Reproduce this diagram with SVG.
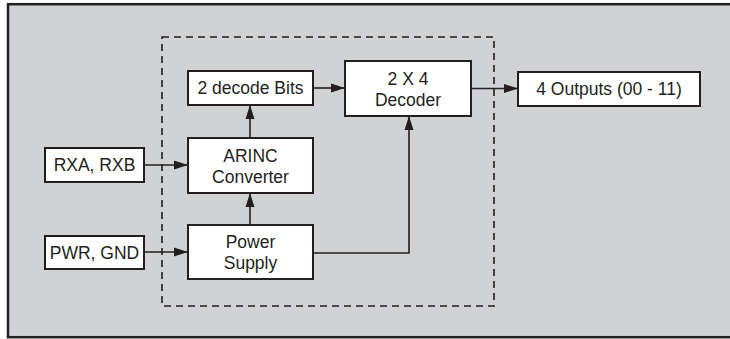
<svg xmlns="http://www.w3.org/2000/svg" width="730" height="339" viewBox="0 0 730 339">
  <defs>
    <marker id="arr" viewBox="0 0 14 10" refX="14" refY="5" markerWidth="14" markerHeight="10" markerUnits="userSpaceOnUse" orient="auto">
      <path d="M0,0.5 L14,5 L0,9.5 Z" fill="#231f20"/>
    </marker>
    <style>
      .box { fill: #ffffff; stroke: #231f20; stroke-width: 2; }
      .lbl { font-family: "Liberation Sans", Arial, sans-serif; font-size: 17.5px; fill: #231f20; text-anchor: middle; }
      .con { fill: none; stroke: #231f20; stroke-width: 1.6; }
    </style>
  </defs>
  <rect x="0" y="0" width="730" height="339" fill="#ffffff"/>
  <rect id="frame" x="8" y="4.2" width="730" height="333" fill="#d1d2d4" stroke="#231f20" stroke-width="2.5"/>
  <rect id="boundary" x="162" y="37" width="332" height="269" fill="none" stroke="#231f20" stroke-width="1.6" stroke-dasharray="7 5"/>

  <g id="connectors">
    <path class="con" d="M144,165 H188" marker-end="url(#arr)"/>
    <path class="con" d="M144,252 H188" marker-end="url(#arr)"/>
    <path class="con" d="M250,225 V193" marker-end="url(#arr)"/>
    <path class="con" d="M250,138 V105" marker-end="url(#arr)"/>
    <path class="con" d="M313,88 H345" marker-end="url(#arr)"/>
    <path class="con" d="M471,88.5 H518" marker-end="url(#arr)"/>
    <path class="con" d="M313,253 H409 V116" marker-end="url(#arr)"/>
  </g>

  <g id="rxa">
    <rect class="box" x="45" y="148" width="99" height="34"/>
    <text class="lbl" x="94.5" y="171.2">RXA, RXB</text>
  </g>
  <g id="pwr">
    <rect class="box" x="45" y="236" width="99" height="33"/>
    <text class="lbl" x="94.5" y="258.7">PWR, GND</text>
  </g>
  <g id="decodebits">
    <rect class="box" x="188" y="71" width="125" height="34"/>
    <text class="lbl" x="250.5" y="94.2">2 decode Bits</text>
  </g>
  <g id="arinc">
    <rect class="box" x="188" y="138" width="125" height="55"/>
    <text class="lbl" x="250.5" y="161.5">ARINC</text>
    <text class="lbl" x="250.5" y="182.5">Converter</text>
  </g>
  <g id="power">
    <rect class="box" x="188" y="225" width="125" height="54"/>
    <text class="lbl" x="250.5" y="248">Power</text>
    <text class="lbl" x="250.5" y="269">Supply</text>
  </g>
  <g id="decoder">
    <rect class="box" x="345" y="61" width="126" height="55"/>
    <text class="lbl" x="408" y="84.5">2 X 4</text>
    <text class="lbl" x="408" y="105.5">Decoder</text>
  </g>
  <g id="outputs">
    <rect class="box" x="518" y="72" width="182" height="34"/>
    <text class="lbl" x="609" y="95.2">4 Outputs (00 - 11)</text>
  </g>
</svg>
